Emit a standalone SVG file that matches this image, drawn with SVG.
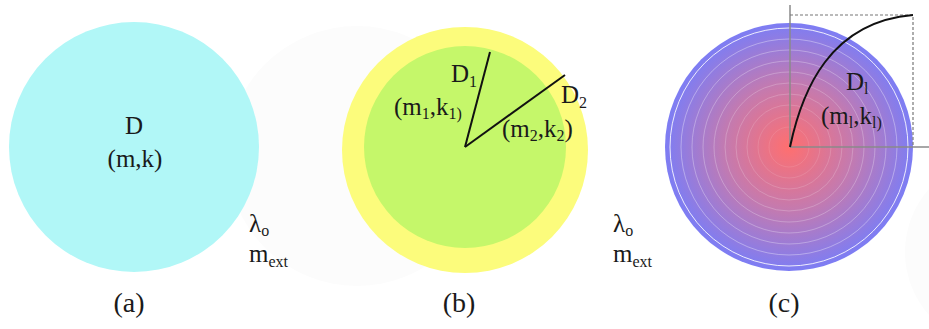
<svg xmlns="http://www.w3.org/2000/svg" width="929" height="329" viewBox="0 0 929 329">
<defs>
<style>
text{font-family:"Liberation Serif","DejaVu Serif",serif;fill:#1a1a1a;font-size:25px}
.cap{font-size:28px;text-anchor:middle}
.sub{font-size:16px}
.ring{fill:none;stroke:#ffffff;stroke-width:1}
.ax{stroke:#8a8a8a;stroke-width:1.5;fill:none}
.ln{stroke:#111;stroke-width:2;fill:none}
.ghost{fill:#fcfcfc}
</style>
<radialGradient id="grad" cx="0.5" cy="0.5" r="0.5">
<stop offset="0" stop-color="#ff6f6f"/>
<stop offset="0.5" stop-color="#c57aae"/>
<stop offset="1" stop-color="#7d7df4"/>
</radialGradient>
</defs>
<rect width="929" height="329" fill="#ffffff"/>
<g id="ghosts">
<circle class="ghost" cx="357" cy="156" r="130"/>
<circle class="ghost" cx="1000" cy="252" r="95"/>
</g>
<g id="panel-a">
<circle cx="134" cy="147" r="125" fill="#b1f7f7"/>
<text x="134" y="134" text-anchor="middle">D</text>
<text x="135" y="167" text-anchor="middle">(m,k)</text>
<text class="cap" x="129" y="312">(a)</text>
</g>
<g id="ext-a">
<text x="249" y="232">λ<tspan class="sub" dy="4">o</tspan></text>
<text x="249" y="262">m<tspan class="sub" dy="5">ext</tspan></text>
</g>
<g id="panel-b">
<circle cx="465" cy="150" r="123" fill="#fcfc7c"/>
<circle cx="465" cy="147" r="101" fill="#c5f76a"/>
<text x="451" y="82">D<tspan class="sub" dy="5">1</tspan></text>
<text x="394" y="115">(m<tspan class="sub" dy="4">1</tspan><tspan dy="-4">,k</tspan><tspan class="sub" dy="4">1)</tspan></text>
<text x="561" y="103">D<tspan class="sub" dy="5">2</tspan></text>
<text x="502" y="137">(m<tspan class="sub" dy="4">2</tspan><tspan dy="-4">,k</tspan><tspan class="sub" dy="4">2</tspan><tspan dy="-4">)</tspan></text>
<text class="cap" x="459" y="312">(b)</text>
</g>
<g id="ext-b">
<text x="613" y="232">λ<tspan class="sub" dy="4">o</tspan></text>
<text x="613" y="262">m<tspan class="sub" dy="5">ext</tspan></text>
</g>
<g id="panel-c">
<circle cx="789" cy="147" r="124" fill="url(#grad)"/>
<circle class="ring" cx="789" cy="147" r="119" stroke-opacity="0.85"/>
<circle class="ring" cx="789" cy="147" r="108" stroke-opacity="0.35"/>
<circle class="ring" cx="789" cy="147" r="97" stroke-opacity="0.3"/>
<circle class="ring" cx="789" cy="147" r="86" stroke-opacity="0.28"/>
<circle class="ring" cx="789" cy="147" r="75" stroke-opacity="0.25"/>
<circle class="ring" cx="789" cy="147" r="64" stroke-opacity="0.22"/>
<circle class="ring" cx="789" cy="147" r="53" stroke-opacity="0.2"/>
<circle class="ring" cx="789" cy="147" r="42" stroke-opacity="0.16"/>
<circle class="ring" cx="789" cy="147" r="31" stroke-opacity="0.12"/>
<circle class="ring" cx="789" cy="147" r="20" stroke-opacity="0.1"/>
<text x="846" y="90">D<tspan class="sub" dy="4">l</tspan></text>
<text x="821" y="124">(m<tspan class="sub" dy="4">l</tspan><tspan dy="-4">,k</tspan><tspan class="sub" dy="4">l)</tspan></text>
<text class="cap" x="784" y="312">(c)</text>
</g>
<g id="connectors">
<line class="ln" x1="465" y1="147" x2="490" y2="52"/>
<line class="ln" x1="465" y1="147" x2="565" y2="75"/>
<line class="ax" x1="790" y1="5" x2="790" y2="147"/>
<line class="ax" x1="790" y1="147" x2="929" y2="147"/>
<path d="M790,15 H913 V147" fill="none" stroke="#777" stroke-width="1.2" stroke-dasharray="3,2"/>
<path class="ln" d="M790,147 C802,90 830,22 913,15"/>
</g>
</svg>
